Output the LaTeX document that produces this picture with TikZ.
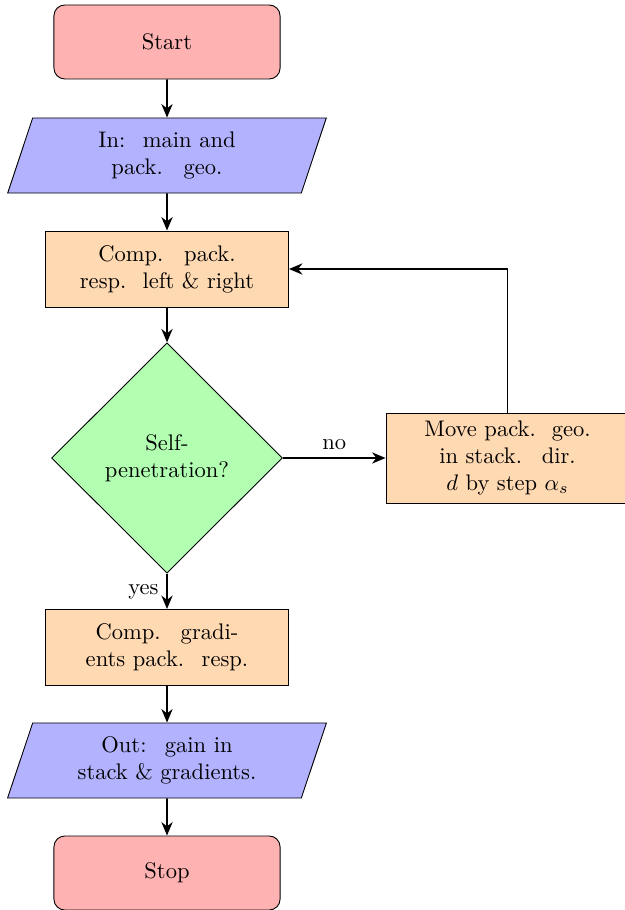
\documentclass[tikz,border=0pt]{standalone}
\usetikzlibrary{shapes.geometric,arrows.meta}

\tikzset{
  every node/.style={execute at begin node={\nonfrenchspacing\xspaceskip=4.44pt plus 5pt minus 0.37pt\relax}},
  startstop/.style={rectangle, rounded corners=4.8pt, draw=black, fill=red!30,
    minimum width=3.526cm, minimum height=1.154cm, align=center},
  iobox/.style={trapezium, trapezium left angle=70, trapezium right angle=110,
    trapezium stretches=true, draw=black, fill=blue!30,
    minimum width=4.976cm, minimum height=1.17cm, text width=88pt, align=center, inner sep=1pt},
  process/.style={rectangle, draw=black, fill=orange!30,
    minimum width=3.79cm, minimum height=1.186cm, text width=99pt, align=center},
  movebox/.style={rectangle, draw=black, fill=orange!30,
    minimum width=3.79cm, minimum height=1.404cm, text width=95pt, align=center, inner sep=1pt},
  decision/.style={diamond, aspect=1, draw=black, fill=green!30,
    minimum width=3.6cm, minimum height=3.59cm, inner sep=0pt,
    text width=2.2cm, align=center},
  flow/.style={thick, -{Stealth[length=6pt,width=5pt]}},
}

\begin{document}
\begin{tikzpicture}[x=0.0156cm, y=-0.0156cm]
  \useasboundingbox (0,0) rectangle (624,910);

  \node[startstop] (start) at (167,42)    {Start};
  \node[iobox]     (in)    at (167,155.5) {In: main and\\pack. geo.};
  \node[process]   (pro1)  at (167,269)   {Comp. pack.\\resp. left \& right};
  \node[decision]  (dec)   at (167,458)   {Self-penetration?};
  \node[movebox]   (move)  at (507.5,458) {Move pack. geo.\\in stack. dir.\\$d$ by step $\alpha_s$};
  \node[process]   (pro2)  at (167,647.5) {Comp. gradi-\\ents pack. resp.};
  \node[iobox]     (out)   at (167,760.5) {Out: gain in\\stack \& gradients.};
  \node[startstop] (stop)  at (167,873)   {Stop};

  \draw[flow] (start) -- (in);
  \draw[flow] (in) -- (pro1);
  \draw[flow] (pro1) -- (dec);
  \draw[flow] (dec) -- node[above] {no} (move);
  \draw[flow] (dec) -- node[left] {yes} (pro2);
  \draw[flow] (move.north) |- (pro1.east);
  \draw[flow] (pro2) -- (out);
  \draw[flow] (out) -- (stop);
\end{tikzpicture}
\end{document}
